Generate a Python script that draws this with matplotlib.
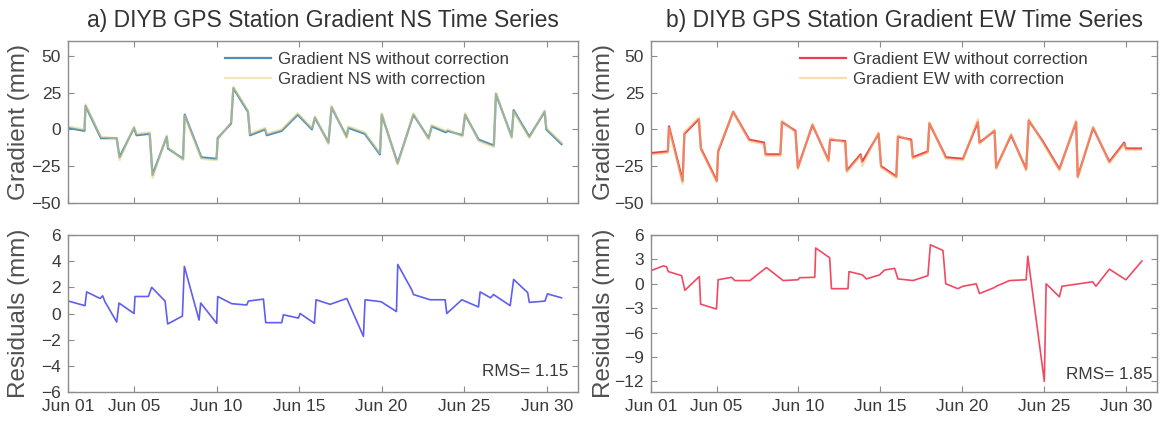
import datetime as dt
import matplotlib
matplotlib.use("Agg")
import matplotlib.pyplot as plt
import matplotlib.dates as mdates
from matplotlib.ticker import FixedLocator

plt.rcParams['font.family'] = ['Liberation Sans', 'DejaVu Sans']

# ---- data (days since 1 June) ----
ns_days = [0.02, 1.0, 1.06, 2.0, 2.95, 3.12, 4.0, 4.15, 4.95, 5.12,
           5.98, 6.06, 6.97, 7.07, 8.08, 9.0, 9.07, 9.88, 10.02, 10.9,
           11.03, 11.94, 12.04, 12.95, 13.92, 14.78, 14.96, 15.78, 15.97, 16.88,
           16.99, 17.98, 18.9, 19.01, 19.97, 20.93, 21.85, 22.04, 22.9, 23.0,
           23.9, 24.06, 24.88, 25.8, 25.93, 26.88, 27.0, 27.95, 28.88, 28.98,
           29.9]
ns_without = [1, -1, 16, -6, -6, -19, 1, -4, -3, -31,
              -5, -13, -20, 10, -19, -20, -6, 4, 28, 12,
              -4, 0, -4, -1, 10, 0, 8, -9, 15, -5,
              1, -3, -17, 10, -23, 10, -6, 2, -2, -1,
              -4, 10, -7, -11, 24, -5, 13, -5, 12, 0,
              -10]
ns_with = [2, 0, 17, -5, -6, -21, 2, -3, -2, -33,
           -4, -12, -21, 9, -20, -21, -7, 5, 29, 13,
           -3, 1, -3, 0, 11, 1, 9, -10, 16, -6,
           2, -2, -16, 11, -24, 11, -7, 3, -1, 0,
           -5, 11, -8, -12, 25, -6, 12, -6, 13, 1,
           -9]

ew_days = [0.1, 1.03, 1.1, 1.93, 2.04, 2.92, 3.05, 4.02, 4.1, 5.02,
           6.0, 6.9, 7.0, 7.9, 8.0, 8.82, 8.97, 9.86, 10.84, 10.94,
           11.86, 11.96, 12.8, 12.9, 13.9, 14.05, 14.98, 15.08, 15.89, 15.99,
           16.9, 17.0, 17.93, 18.0, 19.05, 19.96, 20.06, 20.98, 21.08, 21.99,
           22.91, 23.07, 23.92, 24.94, 25.96, 26.06, 27.0, 27.99, 28.9, 29.0,
           29.92]
ew_without = [-16, -15, 2, -35, -3, 7, -13, -35, -15, 12,
              -7, -9, -17, -17, 5, -1, -26, 3, -21, -7,
              -8, -28, -17, -22, -3, -25, -32, -5, -7, -19,
              -15, 4, -17, -19, -20, 5, -9, -1, -26, -4,
              -27, 6, -8, -27, 5, -32, 1, -22, -9, -13,
              -13]
ew_with = [-17, -16, 1, -37, -2, 8, -14, -36, -14, 12,
           -8, -10, -18, -18, 6, -2, -27, 4, -22, -6,
           -9, -29, -18, -25, -2, -26, -33, -4, -8, -20,
           -16, 5, -18, -20, -21, 7, -10, 0, -27, -3,
           -28, 7, -9, -28, 6, -33, 2, -23, -10, -14,
           -14]

res_ns_days = [0.02, 1.03, 1.13, 1.94, 2.1, 2.24, 2.95, 3.09, 4.0, 4.06,
               4.87, 5.07, 5.88, 6.04, 6.93, 7.05, 7.94, 8.04, 9.01, 9.07,
               9.92, 10.83, 10.93, 11.84, 11.98, 12.95, 13.05, 13.96, 14.06, 14.93,
               15.03, 15.88, 16.89, 17.9, 18.0, 18.97, 19.9, 19.98, 20.83, 20.93,
               21.94, 22.85, 22.95, 23.86, 24.87, 24.97, 25.6, 25.78, 26.79, 27.0,
               27.85, 27.95, 28.9, 29.05, 29.9]
res_ns = [0.95, 0.6, 1.65, 1.15, 1.35, 0.9, -0.65, 0.8, 0.0, 1.3,
          1.3, 2.0, 0.95, -0.8, -0.2, 3.6, -0.5, 0.8, -0.75, 1.3,
          0.75, 0.65, 0.95, 1.1, -0.7, -0.7, -0.1, -0.35, 0.0, -0.75,
          1.05, 0.7, 1.15, -1.75, 1.05, 0.9, 0.15, 3.75, 1.8, 1.45,
          1.05, 1.05, 0.0, 1.05, 0.5, 1.65, 1.2, 1.45, 0.6, 2.6,
          1.6, 0.85, 0.95, 1.5, 1.2]

res_ew_days = [0.1, 0.75, 0.95, 1.06, 1.87, 2.07, 2.95, 3.03, 4.0, 4.1,
               4.92, 5.12, 6.04, 7.05, 8.07, 8.98, 9.08, 10.0, 10.06, 10.91,
               11.02, 12.03, 12.09, 12.91, 13.15, 13.96, 14.27, 14.88, 15.08, 16.0,
               16.91, 17.06, 17.83, 18.0, 18.74, 19.05, 19.86, 20.06, 20.98, 21.08,
               21.89, 22.91, 23.01, 24.02, 24.13, 24.94, 25.1, 25.96, 26.97, 27.17,
               27.99, 29.0, 29.98]
res_ew = [1.7, 2.2, 2.1, 1.5, 1.0, -0.8, 0.9, -2.5, -3.1, 0.5,
          0.8, 0.4, 0.4, 2.0, 0.4, 0.5, 0.75, 0.8, 4.4, 3.2,
          -0.6, -0.6, 1.5, 1.1, 0.6, 1.1, 1.7, 1.9, 0.6, 0.4,
          1.0, 4.8, 4.1, 0.0, -0.6, -0.3, 0.0, -1.2, -0.45, -0.3,
          0.4, 0.5, 3.4, -12.0, 0.0, -1.6, -0.3, -0.05, 0.25, -0.3,
          1.8, 0.5, 2.8]

tick_days = [1, 5, 10, 15, 20, 25, 30]
rms_ns_text = "RMS= 1.15"
rms_ew_text = "RMS= 1.85"

START = dt.datetime(2019, 6, 1)


def to_dates(days):
    return [START + dt.timedelta(days=d) for d in days]


# ---- figure ----
W, H = 1160, 422
fig = plt.figure(figsize=(W / 100, H / 100), dpi=100)


def px_axes(x0, y0, x1, y1):
    return fig.add_axes([x0 / W, 1 - y1 / H, (x1 - x0) / W, (y1 - y0) / H])


ax_ns = px_axes(68, 41, 578, 203)
ax_rns = px_axes(68, 235, 578, 392)
ax_ew = px_axes(651, 41, 1157, 203)
ax_rew = px_axes(651, 235, 1157, 392)

TXT = '#3a3a3a'
SPINE = '#8c8c8c'
tick_dates = [mdates.date2num(dt.datetime(2019, 6, d)) for d in tick_days]

for ax in (ax_ns, ax_rns, ax_ew, ax_rew):
    ax.set_xlim(START, START + dt.timedelta(days=30.9))
    ax.xaxis.set_major_locator(FixedLocator(tick_dates))
    ax.xaxis.set_major_formatter(mdates.DateFormatter('%b %d'))
    ax.tick_params(direction='in', top=True, right=True, length=4, width=0.8,
                   color=SPINE, labelcolor=TXT, labelsize=12.5, pad=5)
    for s in ax.spines.values():
        s.set_color(SPINE)
        s.set_linewidth(1.0)

for ax in (ax_ns, ax_ew):
    ax.tick_params(labelbottom=False)
    ax.set_ylim(-50, 60)
    ax.set_yticks([-50, -25, 0, 25, 50])
    ax.set_ylabel('Gradient (mm)', fontsize=17.5, color='#505050')

# gradients NS
ax_ns.plot(to_dates(ns_days), ns_without, color='#4f8fb8', lw=1.6,
           label='Gradient NS without correction')
ax_ns.plot(to_dates(ns_days), ns_with, color='#e6d27c', lw=1.6, alpha=0.55,
           label='Gradient NS with correction')

# gradients EW
ax_ew.plot(to_dates(ew_days), ew_without, color='#e8404c', lw=1.6,
           label='Gradient EW without correction')
ax_ew.plot(to_dates(ew_days), ew_with, color='#f5be72', lw=1.6, alpha=0.55,
           label='Gradient EW with correction')

for ax, xa in ((ax_ns, 0.308), (ax_ew, 0.294)):
    leg = ax.legend(loc='upper left', bbox_to_anchor=(xa, 0.935), frameon=False,
                    fontsize=12.2, handlelength=2.7, handletextpad=0.45,
                    labelspacing=0.3, borderpad=0, borderaxespad=0)
    for t in leg.get_texts():
        t.set_color(TXT)

# residuals
ax_rns.plot(to_dates(res_ns_days), res_ns, color='#5e5ef2', lw=1.2)
ax_rns.set_ylim(-6, 6)
ax_rns.set_yticks([-6, -4, -2, 0, 2, 4, 6])
ax_rns.set_ylabel('Residuals (mm)', fontsize=17.5, color='#505050')

ax_rew.plot(to_dates(res_ew_days), res_ew, color='#f04a62', lw=1.2)
ax_rew.set_ylim(-13.3, 6)
ax_rew.set_yticks([-12, -9, -6, -3, 0, 3, 6])
ax_rew.set_ylabel('Residuals (mm)', fontsize=17.5, color='#505050')

ax_rns.text(0.98, 0.13, rms_ns_text, transform=ax_rns.transAxes,
            ha='right', va='center', fontsize=12.3, color=TXT)
ax_rew.text(0.99, 0.11, rms_ew_text, transform=ax_rew.transAxes,
            ha='right', va='center', fontsize=12.3, color=TXT)

for ax in (ax_ns, ax_rns):
    ax.yaxis.set_label_coords(-0.074, 0.5)
for ax in (ax_ew, ax_rew):
    ax.yaxis.set_label_coords(-0.072, 0.5)

fig.text((68 + 578) / 2 / W, 1 - 20 / H, 'a) DIYB GPS Station Gradient NS Time Series',
         ha='center', va='center', fontsize=16.5, color='#333333')
fig.text((651 + 1157) / 2 / W, 1 - 20 / H, 'b) DIYB GPS Station Gradient EW Time Series',
         ha='center', va='center', fontsize=16.5, color='#333333')

fig.savefig('out.png', dpi=100, facecolor='white')
